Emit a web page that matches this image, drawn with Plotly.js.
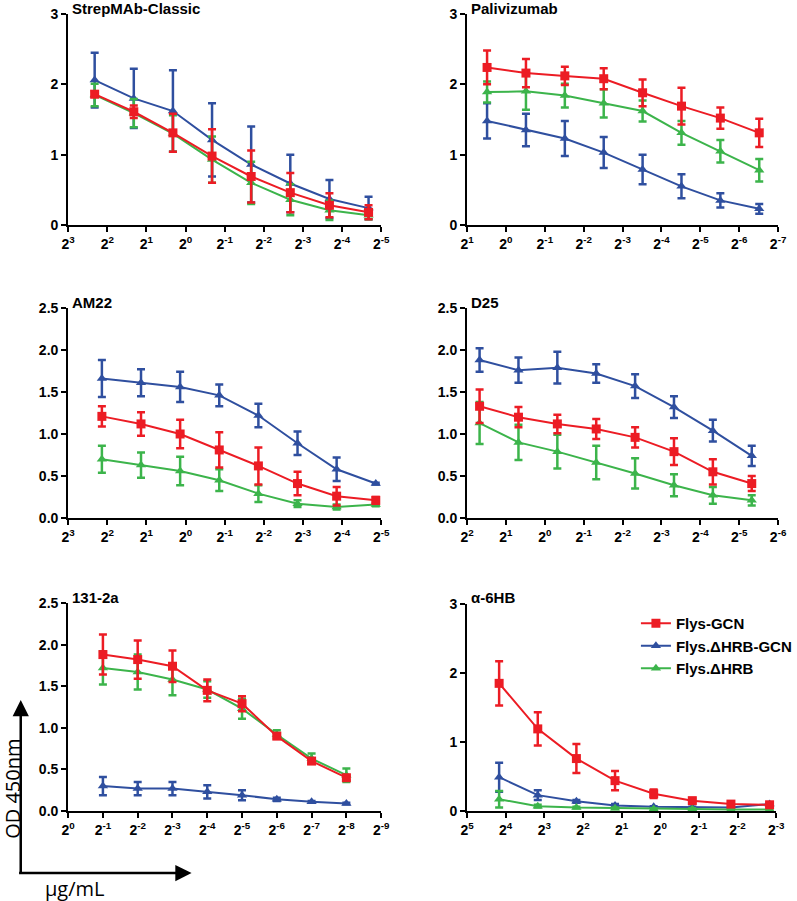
<!DOCTYPE html>
<html>
<head>
<meta charset="utf-8">
<script src="https://cdn.plot.ly/plotly-3.0.1.min.js"></script>
<style>
  html, body { margin: 0; padding: 0; background: #fff; }
  #chart { width: 797px; height: 901px; }
</style>
</head>
<body>
<div id="chart"></div>
<script>
// series names (legend order)
const seriesNames = ['Flys-GCN', 'Flys.\u0394HRB-GCN', 'Flys.\u0394HRB'];
const seriesColors = ['#ec1c24', '#2f4f9f', '#3cb44b'];
const seriesSymbols = ['square', 'triangle-up', 'triangle-up'];

// panel titles
const panelTitles = ['StrepMAb-Classic', 'Palivizumab', 'AM22', 'D25', '131-2a', '\u03b1-6HB'];

// concentrations, ug/mL (two-fold dilutions)
const concStrep = [5, 2.5, 1.25, 0.625, 0.3125, 0.15625, 0.078125, 0.0390625];
const concPali = [1.4, 0.7, 0.35, 0.175, 0.0875, 0.04375, 0.021875, 0.0109375];
const concAM22 = [4.4, 2.2, 1.1, 0.55, 0.275, 0.1375, 0.06875, 0.034375];
const concD25 = [3.2, 1.6, 0.8, 0.4, 0.2, 0.1, 0.05, 0.025];
const conc131 = [0.5, 0.25, 0.125, 0.0625, 0.03125, 0.015625, 0.0078125, 0.00390625];
const conc6HB = [18, 9, 4.5, 2.25, 1.125, 0.5625, 0.28125, 0.140625];

// x tick exponents (powers of 2), left to right
const ticksStrep = [3, 2, 1, 0, -1, -2, -3, -4, -5];
const ticksPali = [1, 0, -1, -2, -3, -4, -5, -6, -7];
const ticksAM22 = [3, 2, 1, 0, -1, -2, -3, -4, -5];
const ticksD25 = [2, 1, 0, -1, -2, -3, -4, -5, -6];
const ticks131 = [0, -1, -2, -3, -4, -5, -6, -7, -8, -9];
const ticks6HB = [5, 4, 3, 2, 1, 0, -1, -2, -3];

// OD 450nm values and error bars
const strepGCN = [1.86, 1.61, 1.31, 0.98, 0.69, 0.46, 0.28, 0.18];
const strepGCNerr = [0.04, 0.09, 0.27, 0.38, 0.37, 0.28, 0.17, 0.10];
const strepHRBGCN = [2.06, 1.80, 1.62, 1.21, 0.86, 0.59, 0.37, 0.24];
const strepHRBGCNerr = [0.39, 0.42, 0.58, 0.52, 0.54, 0.41, 0.27, 0.16];
const strepHRB = [1.85, 1.59, 1.30, 0.93, 0.60, 0.36, 0.21, 0.14];
const strepHRBerr = [0.16, 0.20, 0.26, 0.33, 0.30, 0.22, 0.14, 0.06];

const paliGCN = [2.24, 2.16, 2.12, 2.08, 1.88, 1.69, 1.52, 1.31];
const paliGCNerr = [0.24, 0.20, 0.13, 0.15, 0.19, 0.26, 0.15, 0.20];
const paliHRBGCN = [1.48, 1.35, 1.23, 1.03, 0.79, 0.55, 0.35, 0.23];
const paliHRBGCNerr = [0.25, 0.23, 0.25, 0.22, 0.21, 0.17, 0.10, 0.07];
const paliHRB = [1.89, 1.90, 1.84, 1.73, 1.62, 1.31, 1.05, 0.78];
const paliHRBerr = [0.15, 0.26, 0.17, 0.20, 0.15, 0.17, 0.16, 0.16];

const am22GCN = [1.21, 1.12, 1.00, 0.81, 0.62, 0.41, 0.26, 0.21];
const am22GCNerr = [0.12, 0.14, 0.17, 0.21, 0.22, 0.14, 0.11, 0.04];
const am22HRBGCN = [1.66, 1.61, 1.56, 1.46, 1.22, 0.89, 0.58, 0.41];
const am22HRBGCNerr = [0.22, 0.16, 0.18, 0.13, 0.14, 0.14, 0.14, 0.01];
const am22HRB = [0.70, 0.63, 0.56, 0.45, 0.29, 0.17, 0.13, 0.16];
const am22HRBerr = [0.16, 0.15, 0.17, 0.13, 0.10, 0.04, 0.03, 0.02];

const d25GCN = [1.33, 1.20, 1.12, 1.06, 0.96, 0.79, 0.55, 0.41];
const d25GCNerr = [0.20, 0.12, 0.11, 0.12, 0.12, 0.16, 0.15, 0.09];
const d25HRBGCN = [1.88, 1.76, 1.79, 1.72, 1.57, 1.32, 1.04, 0.74];
const d25HRBGCNerr = [0.14, 0.15, 0.19, 0.11, 0.14, 0.13, 0.13, 0.12];
const d25HRB = [1.13, 0.90, 0.79, 0.66, 0.53, 0.39, 0.27, 0.21];
const d25HRBerr = [0.25, 0.21, 0.20, 0.20, 0.18, 0.13, 0.10, 0.06];

const a131GCN = [1.88, 1.82, 1.74, 1.45, 1.29, 0.90, 0.60, 0.40];
const a131GCNerr = [0.24, 0.23, 0.19, 0.13, 0.09, 0.03, 0.03, 0.03];
const a131HRBGCN = [0.30, 0.27, 0.27, 0.23, 0.19, 0.14, 0.11, 0.09];
const a131HRBGCNerr = [0.11, 0.08, 0.08, 0.08, 0.06, 0.02, 0.01, 0.01];
const a131HRB = [1.72, 1.67, 1.58, 1.46, 1.23, 0.92, 0.63, 0.43];
const a131HRBerr = [0.20, 0.21, 0.19, 0.10, 0.12, 0.05, 0.06, 0.08];

const hb6GCN = [1.85, 1.19, 0.76, 0.44, 0.25, 0.15, 0.10, 0.09];
const hb6GCNerr = [0.32, 0.24, 0.21, 0.14, 0.06, 0.03, 0.02, 0.02];
const hb6HRBGCN = [0.49, 0.23, 0.14, 0.08, 0.06, 0.05, 0.05, 0.10];
const hb6HRBGCNerr = [0.21, 0.07, 0.02, 0.02, 0.01, 0.01, 0.01, 0.01];
const hb6HRB = [0.17, 0.07, 0.05, 0.04, 0.03, 0.03, 0.02, 0.02];
const hb6HRBerr = [0.12, 0.02, 0.01, 0.01, 0.01, 0.01, 0.01, 0.01];

const W = 797, H = 901;
const px = (x) => x / W;
const py = (y) => 1 - y / H;

// panel boxes in pixels (plot area)
const boxes = [
    { x0: 69, x1: 386, y0: 14, y1: 225, ymax: 3, dtick: 1, fmt: 'd', ty: 8.5 },
    { x0: 473, x1: 788, y0: 14, y1: 225, ymax: 3, dtick: 1, fmt: 'd', ty: 8.5 },
    { x0: 69, x1: 386, y0: 308, y1: 518, ymax: 2.5, dtick: 0.5, fmt: '.1f', ty: 302 },
    { x0: 473, x1: 788, y0: 308, y1: 518, ymax: 2.5, dtick: 0.5, fmt: '.1f', ty: 302 },
    { x0: 69, x1: 386, y0: 603, y1: 811, ymax: 2.5, dtick: 0.5, fmt: '.1f', ty: 597 },
    { x0: 473, x1: 786, y0: 604, y1: 811, ymax: 3, dtick: 1, fmt: 'd', ty: 597 }
];

const panels = [
    { conc: concStrep, ticks: ticksStrep, vals: [strepGCN, strepHRBGCN, strepHRB], errs: [strepGCNerr, strepHRBGCNerr, strepHRBerr] },
    { conc: concPali, ticks: ticksPali, vals: [paliGCN, paliHRBGCN, paliHRB], errs: [paliGCNerr, paliHRBGCNerr, paliHRBerr] },
    { conc: concAM22, ticks: ticksAM22, vals: [am22GCN, am22HRBGCN, am22HRB], errs: [am22GCNerr, am22HRBGCNerr, am22HRBerr] },
    { conc: concD25, ticks: ticksD25, vals: [d25GCN, d25HRBGCN, d25HRB], errs: [d25GCNerr, d25HRBGCNerr, d25HRBerr] },
    { conc: conc131, ticks: ticks131, vals: [a131GCN, a131HRBGCN, a131HRB], errs: [a131GCNerr, a131HRBGCNerr, a131HRBerr] },
    { conc: conc6HB, ticks: ticks6HB, vals: [hb6GCN, hb6HRBGCN, hb6HRB], errs: [hb6GCNerr, hb6HRBGCNerr, hb6HRBerr] }
];

const tickFont = { family: 'Liberation Sans, Arial, sans-serif', size: 14, weight: 'bold', color: '#000' };
const axisBase = {
    showline: true, linecolor: '#000', linewidth: 2,
    ticks: 'outside', ticklen: 5, tickwidth: 2, tickcolor: '#000',
    showgrid: false, zeroline: false, fixedrange: true,
    tickfont: tickFont
};

const data = [];
const layout = {
    width: W, height: H,
    margin: { l: 0, r: 0, t: 0, b: 0 },
    paper_bgcolor: '#fff', plot_bgcolor: '#fff',
    showlegend: true,
    legend: {
        x: px(644), y: py(607), xanchor: 'left', yanchor: 'top',
        bgcolor: 'rgba(0,0,0,0)',
        font: { family: 'Liberation Sans, Arial, sans-serif', size: 15, weight: 'bold', color: '#000' },
        tracegroupgap: 0
    },
    annotations: []
};

// draw order: blue, green, red on top
const drawOrder = [1, 2, 0];

panels.forEach((p, i) => {
    const n = i + 1;
    const b = boxes[i];
    const suffix = n === 1 ? '' : String(n);

    layout['xaxis' + suffix] = Object.assign({}, axisBase, {
        domain: [px(b.x0), px(b.x1)],
        anchor: 'y' + suffix,
        type: 'log',
        range: [Math.log10(Math.pow(2, p.ticks[0])), Math.log10(Math.pow(2, p.ticks[p.ticks.length - 1]))],
        tickvals: p.ticks.map(e => Math.pow(2, e)),
        ticktext: p.ticks.map(e => '2<sup>' + e + '</sup>')
    });
    layout['yaxis' + suffix] = Object.assign({}, axisBase, {
        domain: [py(b.y1), py(b.y0)],
        anchor: 'x' + suffix,
        range: [0, b.ymax],
        dtick: b.dtick,
        tickformat: b.fmt
    });

    drawOrder.forEach(s => {
        data.push({
            type: 'scatter',
            mode: 'lines+markers',
            x: p.conc,
            y: p.vals[s],
            xaxis: 'x' + suffix,
            yaxis: 'y' + suffix,
            name: seriesNames[s],
            legendgroup: 'g' + s,
            legendrank: s + 1,
            showlegend: i === 5,
            line: { color: seriesColors[s], width: 2 },
            marker: { color: seriesColors[s], symbol: seriesSymbols[s], size: 9 },
            error_y: { type: 'data', array: p.errs[s], color: seriesColors[s], thickness: 2.5, width: 4 },
            cliponaxis: false
        });
    });

    layout.annotations.push({
        xref: 'paper', yref: 'paper',
        x: px(b.x0 + 3), y: py(b.ty),
        xanchor: 'left', yanchor: 'middle',
        text: panelTitles[i], showarrow: false, borderpad: 0,
        font: { family: 'Liberation Sans, Arial, sans-serif', size: 15, weight: 'bold', color: '#000' }
    });
});

// axis direction arrows and labels
layout.annotations.push(
    {
        xref: 'paper', yref: 'paper', x: px(21), y: py(700),
        ax: 0, ay: 174, text: '', showarrow: true,
        arrowhead: 2, arrowsize: 1.3, arrowwidth: 2.5, arrowcolor: '#000'
    },
    {
        xref: 'paper', yref: 'paper', x: px(194), y: py(873),
        ax: -174, ay: 0, text: '', showarrow: true,
        arrowhead: 2, arrowsize: 1.3, arrowwidth: 2.5, arrowcolor: '#000'
    },
    {
        xref: 'paper', yref: 'paper', x: px(12), y: py(789),
        xanchor: 'center', yanchor: 'middle', textangle: -90,
        text: 'OD 450nm', showarrow: false, borderpad: 0,
        font: { family: 'Open Sans, sans-serif', size: 20, color: '#000' }
    },
    {
        xref: 'paper', yref: 'paper', x: px(45), y: py(888),
        xanchor: 'left', yanchor: 'middle',
        text: '\u03bcg/mL', showarrow: false, borderpad: 0,
        font: { family: 'Open Sans, sans-serif', size: 20, color: '#000' }
    }
);

Plotly.newPlot('chart', data, layout, { displayModeBar: false, staticPlot: true });
</script>
</body>
</html>
